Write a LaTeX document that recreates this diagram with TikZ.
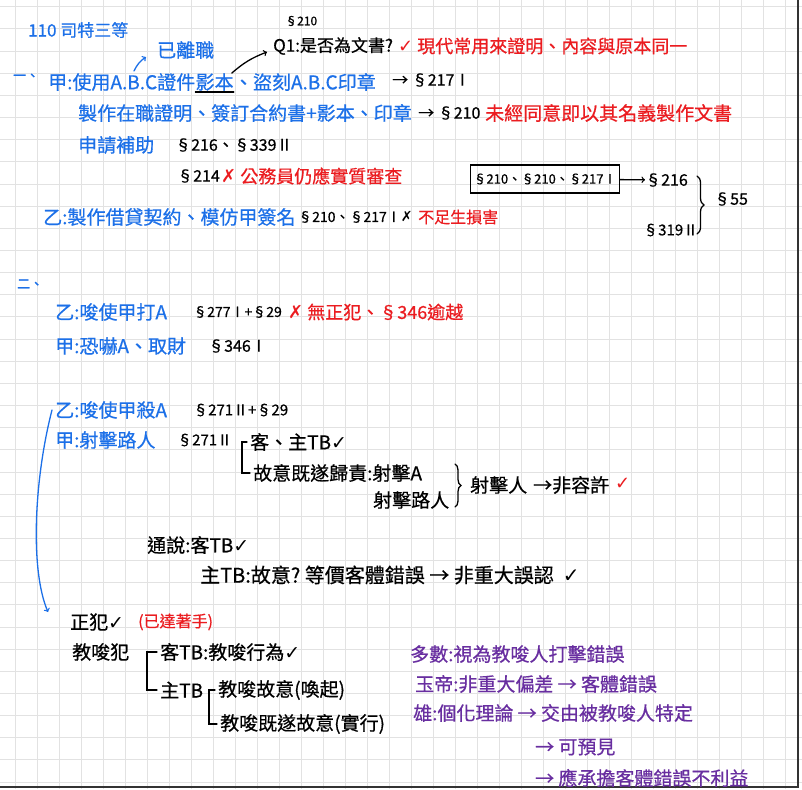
\documentclass[tikz,border=0pt]{standalone}
\usepackage{fontspec}
\setmainfont{Noto Sans CJK TC}[FakeBold=0.6]
\newfontfamily\symfont{DejaVu Sans}
\usetikzlibrary{positioning, calc, decorations.pathreplacing}

\definecolor{penblue}{RGB}{28,112,232}
\definecolor{penred}{RGB}{235,28,32}
\definecolor{penpurple}{RGB}{104,46,160}
\definecolor{gridgray}{RGB}{226,226,226}

\newcommand{\yesmark}{{\symfont ✓}}
\newcommand{\nomark}{{\symfont ✗}}

\begin{document}
\begin{tikzpicture}[x=1pt, y=-1pt]
  \tikzstyle{note} = [anchor=west, inner sep=0pt]
  \tikzstyle{bluepen} = [note, text=penblue, font=\fontsize{19}{20}\selectfont]
  \tikzstyle{redpen} = [note, text=penred, font=\fontsize{18}{20}\selectfont]
  \tikzstyle{inkpen} = [note, text=black, font=\fontsize{19}{20}\selectfont]
  \tikzstyle{lawref} = [note, text=black, font=\fontsize{16}{18}\selectfont]
  \tikzstyle{purplepen} = [note, text=penpurple, font=\fontsize{19}{20}\selectfont]
  \tikzstyle{gridline} = [draw=gridgray, line width=0.7pt]
  \tikzstyle{stroke} = [line width=1.3pt, line cap=round]

  % paper
  \useasboundingbox (0,0) rectangle (802,789);
  \fill[white] (0,0) rectangle (802,789);
  \foreach \i in {0,...,35} \draw[gridline] ({15.7+22*\i},0) -- ({15.7+22*\i},789);
  \foreach \j in {0,...,35} \draw[gridline] (0,{6.7+22.15*\j}) -- (802,{6.7+22.15*\j});
  \draw[line width=1.2pt, black!80] (798,0) -- (798,787) -- (0,787);

  % part one
  \node[bluepen, font=\fontsize{17}{18}\selectfont] (title) at (28,30) {110 司特三等};
  \node[lawref, font=\fontsize{12}{14}\selectfont] (q1ref) at (285,21) {§210};
  \node[inkpen, font=\fontsize{17}{18}\selectfont] (q1) at (273,46) {Q1:是否為文書?};
  \node[redpen] (q1ans) at (398,46) {\yesmark\ 現代常用來證明、內容與原本同一};
  \node[bluepen] (left) at (157,50) {已離職};
  \node[bluepen, font=\fontsize{13}{14}\selectfont] (one) at (13,77) {一、};
  \node[bluepen] (jia1) at (48,82) {甲:使用A.B.C證件};
  \node[bluepen, right=0pt of jia1] (copy) {影本};
  \node[bluepen, right=0pt of copy] (jia1b) {、盜刻A.B.C印章};
  \node[lawref] (jia1ref) at (392,80) {→ §217Ⅰ};
  \node[bluepen] (make) at (78,113) {製作在職證明、簽訂合約書+影本、印章};
  \node[lawref] (makeref) at (418,113) {→ §210};
  \node[redpen, font=\fontsize{19}{20}\selectfont] (makeans) at (485,113) {未經同意即以其名義製作文書};
  \node[bluepen] (apply) at (78,145) {申請補助};
  \node[lawref] (applyref) at (175,145) {§216、§339Ⅱ};
  \node[lawref] (ref214) at (177,176) {§214};
  \node[redpen] (ans214) at (221,176) {\nomark\ 公務員仍應實質審查};
  \node[bluepen] (yi1) at (43,217) {乙:製作借貸契約、模仿甲簽名};
  \node[lawref, font=\fontsize{14}{16}\selectfont] (yi1ref) at (298,217) {§210、§217Ⅰ\nomark};
  \node[redpen, font=\fontsize{16}{18}\selectfont] (yi1ans) at (418,217) {不足生損害};
  \node[lawref, font=\fontsize{13}{15}\selectfont, anchor=center, draw, line width=1.3pt,
        inner sep=3pt, minimum width=146pt, minimum height=28pt] (combo) at (545,179) {§210、§210、§217Ⅰ};
  \node[lawref] (ref216) at (645,180) {§216};
  \node[lawref, font=\fontsize{15}{16}\selectfont] (ref319) at (643,230) {§319Ⅱ};
  \node[lawref] (ref55) at (714,199) {§55};

  \coordinate (leftfrom) at (134,71);
  \coordinate (bracetop) at (697,176);
  \coordinate (bracebot) at (697,234);

  \draw[stroke, penblue, ->] (leftfrom) to[bend left=15] ([shift={(-11,7)}]left.west);
  \draw[stroke, ->] ([xshift=-2]copy.north east) to[bend left=10] ([shift={(-6,6)}]q1.west);
  \draw[stroke] ([yshift=-1pt]copy.south west) -- ([yshift=-1pt]copy.south east);
  \draw[stroke, ->] (combo) -- (ref216);
  \draw[stroke, decorate, decoration={brace, amplitude=7pt}] (bracetop) -- (bracebot);

  % part two
  \node[bluepen, font=\fontsize{13}{14}\selectfont] (two) at (17,284) {二、};
  \node[bluepen] (yi2) at (55,312) {乙:唆使甲打A};
  \node[lawref, font=\fontsize{14}{16}\selectfont] (yi2ref) at (193,312) {§277Ⅰ+§29};
  \node[redpen] (yi2ans) at (288,312) {\nomark\ 無正犯、§346逾越};
  \node[bluepen] (jia2) at (55,346) {甲:恐嚇A、取財};
  \node[lawref] (jia2ref) at (208,346) {§346Ⅰ};

  \node[bluepen] (yi3) at (55,410) {乙:唆使甲殺A};
  \node[lawref, font=\fontsize{15}{16}\selectfont] (yi3ref) at (193,410) {§271Ⅱ+§29};
  \node[bluepen] (jia3) at (55,440) {甲:射擊路人};
  \node[lawref, font=\fontsize{15}{16}\selectfont] (jia3ref) at (177,440) {§271Ⅱ};
  \node[inkpen] (objsub) at (250,442) {客、主TB\yesmark};
  \node[inkpen] (intent) at (253,473) {故意既遂歸責:射擊A};
  \node[inkpen] (passer) at (373,500) {射擊路人};
  \node[inkpen] (shooter) at (470,485) {射擊人};
  \node[inkpen] (nonperm) at (533,485) {→非容許};
  \node[redpen] (permok) at (615,484) {\yesmark};

  \coordinate (brace2top) at (455,464);
  \coordinate (brace2bot) at (455,507);
  \draw[stroke, decorate, decoration={brace, amplitude=6pt}] (brace2top) -- (brace2bot);
  \draw[stroke] ([xshift=-3]objsub.west) -- ++(-5,0) |- ([xshift=-3]intent.west);

  \node[inkpen] (common) at (147,545) {通說:客TB\yesmark};
  \node[inkpen, font=\fontsize{20}{21}\selectfont] (subj) at (200,575) {主TB:故意?\ 等價客體錯誤 → 非重大誤認\ \ \yesmark};

  \node[inkpen] (principal) at (70,622) {正犯\yesmark};
  \node[redpen, font=\fontsize{16}{18}\selectfont] (reached) at (138,622) {(已達著手)};
  \node[inkpen] (instig) at (72,652) {教唆犯};
  \node[inkpen] (objtb) at (160,652) {客TB:教唆行為\yesmark};
  \node[inkpen] (subtb) at (160,690) {主TB};
  \node[inkpen] (int1) at (218,690) {教唆故意(喚起)};
  \node[inkpen] (int2) at (220,724) {教唆既遂故意(實行)};

  \draw[stroke, penblue, ->] ([xshift=-3]yi3.west) .. controls (34,480) and (30,570) .. ([shift={(-22,-10)}]principal.west);
  \draw[stroke] ([xshift=-3]objtb.west) -- ++(-10,0) |- ([xshift=-3]subtb.west);
  \draw[stroke] ([xshift=-3]int1.west) -- ++(-6,0) |- ([xshift=-3]int2.west);

  \node[purplepen] (major) at (410,654) {多數:視為教唆人打擊錯誤};
  \node[purplepen] (yudi) at (415,684) {玉帝:非重大偏差 → 客體錯誤};
  \node[purplepen] (xiong) at (413,713) {雄:個化理論 → 交由被教唆人特定};
  \node[purplepen] (foresee) at (535,747) {→ 可預見};
  \node[purplepen] (bear) at (535,778) {→ 應承擔客體錯誤不利益};
\end{tikzpicture}
\end{document}
